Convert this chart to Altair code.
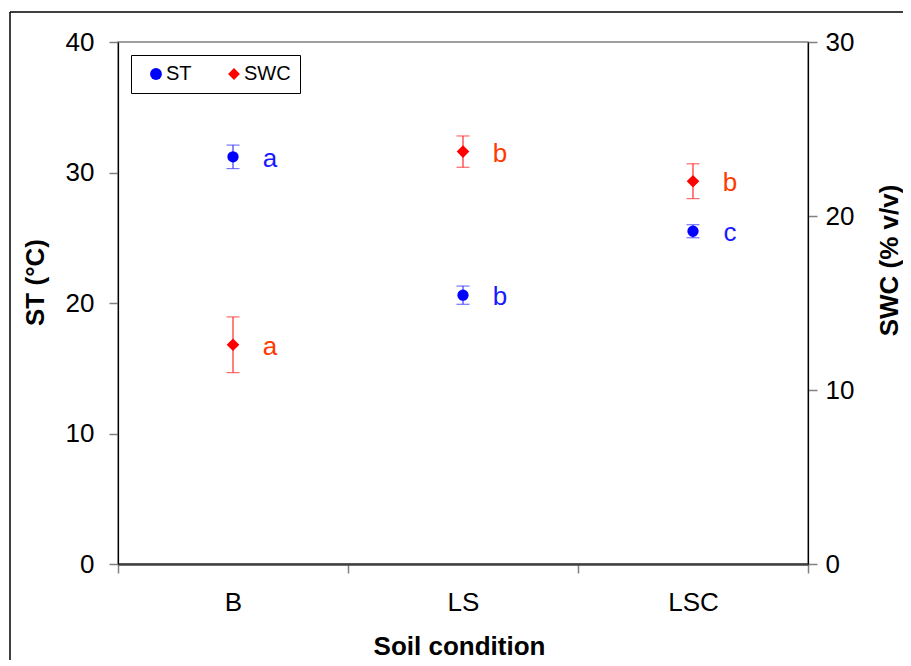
import altair as alt
import pandas as pd

conds = ["B", "LS", "LSC"]
st_mean = [31.2, 20.6, 25.5]
st_err = [0.9, 0.7, 0.5]
st_letters = ["a", "b", "c"]
swc_mean = [12.6, 23.7, 22.0]
swc_err = [1.6, 0.9, 1.0]
swc_letters = ["a", "b", "b"]

FONT = "Liberation Sans"
BLUE = "#0000ff"
RED = "#ff0000"

st_df = pd.DataFrame({
    "cond": conds, "series": "ST", "val": st_mean,
    "lo": [m - e for m, e in zip(st_mean, st_err)],
    "hi": [m + e for m, e in zip(st_mean, st_err)],
    "letter": st_letters,
})
swc_df = pd.DataFrame({
    "cond": conds, "series": "SWC", "val": swc_mean,
    "lo": [m - e for m, e in zip(swc_mean, swc_err)],
    "hi": [m + e for m, e in zip(swc_mean, swc_err)],
    "letter": swc_letters,
})

x_enc = alt.X(
    "cond:N", sort=conds,
    scale=alt.Scale(domain=conds, paddingInner=0, paddingOuter=0),
    axis=alt.Axis(
        title="Soil condition", tickBand="extent", labelAngle=0,
        labelFont=FONT, labelFontSize=26, labelColor="black", labelPadding=16,
        tickSize=9, tickColor="#808080", tickWidth=1.5,
        domainColor="#404040", domainWidth=2.5,
        titleFont=FONT, titleFontSize=26, titleFontWeight="bold", titleColor="black",
        titleX=341, titleY=90, titleBaseline="alphabetic", titleAlign="center",
    ),
)

legend = alt.Legend(title=None, orient="none", legendX=13, legendY=13,
                    direction="horizontal", strokeColor="black",
                    fillColor="white", padding=9, labelFont=FONT,
                    labelFontSize=20, labelColor="black",
                    symbolSize=140, columnPadding=26, labelOffset=0,
                    symbolOffset=6, symbolStrokeWidth=0)
color_enc = alt.Color("series:N", scale=alt.Scale(domain=["ST", "SWC"], range=[BLUE, RED]),
                      legend=legend)
shape_enc = alt.Shape("series:N", scale=alt.Scale(domain=["ST", "SWC"], range=["circle", "diamond"]),
                      legend=legend)


def make_layer(df, domain, values, title, orient, tx, ty, lab_pad, point_size, bar_color, text_color):
    axis = alt.Axis(
        title=title, orient=orient, values=values, grid=False,
        labelFont=FONT, labelFontSize=26, labelColor="black", labelPadding=lab_pad,
        tickSize=9, tickColor="#808080", tickWidth=1.5,
        domainColor="black", domainWidth=1.2,
        titleFont=FONT, titleFontSize=26, titleFontWeight="bold", titleColor="black",
        titleAngle=270, titleX=tx, titleY=ty, titleBaseline="alphabetic", titleAlign="center",
    )
    sc = alt.Scale(domain=domain, nice=False, zero=True)
    base = alt.Chart(df)
    rule = base.mark_rule(color=bar_color, strokeWidth=1.2).encode(
        x=x_enc, y=alt.Y("lo:Q", scale=sc, axis=axis), y2="hi:Q")
    cap_hi = base.mark_tick(color=bar_color, size=13, thickness=1.2, orient="horizontal").encode(
        x=x_enc, y=alt.Y("hi:Q", scale=sc, axis=axis))
    cap_lo = base.mark_tick(color=bar_color, size=13, thickness=1.2, orient="horizontal").encode(
        x=x_enc, y=alt.Y("lo:Q", scale=sc, axis=axis))
    pts = base.mark_point(filled=True, size=point_size, opacity=1, strokeWidth=0).encode(
        x=x_enc, y=alt.Y("val:Q", scale=sc, axis=axis), color=color_enc, shape=shape_enc)
    txt = base.mark_text(dx=37, dy=2, align="center", baseline="middle", font=FONT,
                         fontSize=26, color=text_color).encode(
        x=x_enc, y=alt.Y("val:Q", scale=sc, axis=axis), text="letter:N")
    return alt.layer(rule, cap_hi, cap_lo, pts, txt)


st_layer = make_layer(st_df, [0, 40], [0, 10, 20, 30, 40], "ST (°C)", "left", -75, 240, 15, 128,
                      "#3a3aff", "#1a1aff")
swc_layer = make_layer(swc_df, [0, 30], [0, 10, 20, 30], "SWC (% v/v)", "right", 89, 218, 8, 160,
                       "#ff2a2a", "#ff3a00")

frame_df = pd.DataFrame({"k": [0]})
frame_v = alt.Chart(frame_df).mark_rule(color="black", strokeWidth=1.5).encode(
    x=alt.value(-108), y=alt.value(-30), y2=alt.value(700))
frame_h = alt.Chart(frame_df).mark_rule(color="black", strokeWidth=1.5).encode(
    x=alt.value(-108), x2=alt.value(900), y=alt.value(-30))

chart = alt.layer(st_layer, swc_layer, frame_v, frame_h).resolve_scale(
    y="independent"
).properties(
    width=690, height=522,
    autosize=alt.AutoSizeParams(type="none"),
    padding={"left": 110, "top": 34, "right": 95, "bottom": 96},
    background="white",
).configure_view(stroke="#808080", strokeWidth=1.5)

chart.save("out.html", embed_options={"renderer": "svg", "actions": False})
